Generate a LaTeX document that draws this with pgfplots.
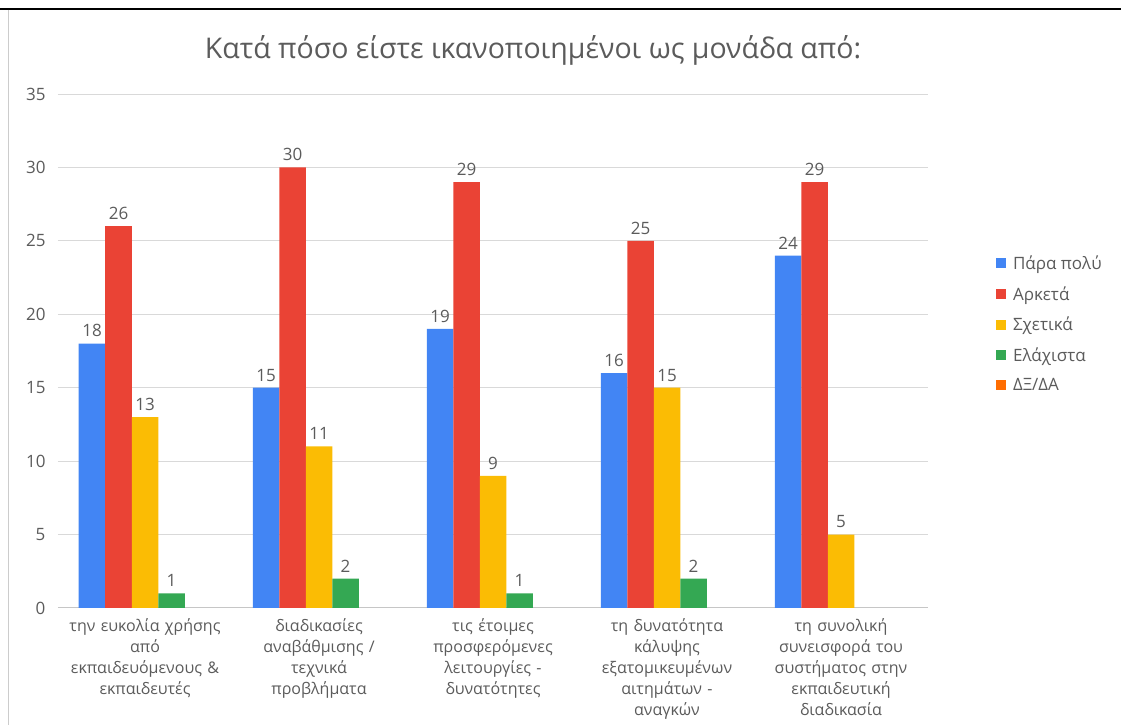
\documentclass[border=0pt]{standalone}
\usepackage{pgfplots}
\pgfplotsset{compat=1.18}
\usepackage{fontspec}
\setmainfont{Open Sans}
\definecolor{cBlue}{HTML}{4285F4}
\definecolor{cRed}{HTML}{EA4335}
\definecolor{cYellow}{HTML}{FBBC04}
\definecolor{cGreen}{HTML}{34A853}
\definecolor{cOrange}{HTML}{FF6D01}
\definecolor{txt}{HTML}{5B5B5B}
\definecolor{gridc}{HTML}{D9D9D9}
\definecolor{zeroc}{HTML}{C6C6C6}
\begin{document}
\begin{tikzpicture}[x=1pt,y=1pt]
\useasboundingbox (0,0) rectangle (1121,725);
\draw[line width=2pt,black] (0,716) -- (1121,716);
\draw[line width=1pt,gray!40] (8,715) -- (8,0);
\begin{axis}[
  at={(58pt,117pt)}, anchor=south west,
  scale only axis, width=870pt, height=514pt,
  ybar=0pt, bar width=26.5pt,
  xmin=-0.5, xmax=4.5, ymin=0, ymax=35,
  ytick={5,10,...,35},
  extra y ticks={0},
  extra y tick style={grid style={zeroc, line width=1pt}},
  xtick={0,1,2,3,4},
  xticklabels={
    {την ευκολία χρήσης\\από\\εκπαιδευόμενους \&\\εκπαιδευτές},
    {διαδικασίες\\αναβάθμισης /\\τεχνικά\\προβλήματα},
    {τις έτοιμες\\προσφερόμενες\\λειτουργίες -\\δυνατότητες},
    {τη δυνατότητα\\κάλυψης\\εξατομικευμένων\\αιτημάτων -\\αναγκών},
    {τη συνολική\\συνεισφορά του\\συστήματος στην\\εκπαιδευτική\\διαδικασία}},
  xticklabel style={text width=175pt, align=center, font=\fontsize{16}{21}\selectfont, text=txt, yshift=-7pt},
  yticklabel style={font=\fontsize{17}{19}\selectfont, text=txt, xshift=-9pt},
  /pgf/number format/assume math mode=true,
  axis line style={draw=none},
  major tick length=0pt,
  ymajorgrids, grid style={gridc, line width=0.8pt},
  title={Κατά πόσο είστε ικανοποιημένοι ως μονάδα από:},
  title style={at={(0.546,1.073)}, anchor=center, font=\fontsize{28.5}{32}\selectfont, text=txt},
  nodes near coords,
  every node near coord/.append style={font=\fontsize{17}{19}\selectfont, text=txt, yshift=3pt},
  legend style={at={(1.078,0.686)}, anchor=north west, draw=none, fill=none,
    font=\fontsize{17}{19}\selectfont, text=txt, row sep=15.5pt, inner sep=0pt,
    nodes={inner sep=0pt, inner xsep=7pt}},
  legend cell align=left,
  legend image code/.code={\fill[#1] (0pt,-5pt) rectangle (10pt,5pt);},
]
\addplot[fill=cBlue, draw=none] coordinates {(0,18) (1,15) (2,19) (3,16) (4,24)};
\addplot[fill=cRed, draw=none] coordinates {(0,26) (1,30) (2,29) (3,25) (4,29)};
\addplot[fill=cYellow, draw=none] coordinates {(0,13) (1,11) (2,9) (3,15) (4,5)};
\addplot[fill=cGreen, draw=none] coordinates {(0,1) (1,2) (2,1) (3,2)};
\addplot[fill=none, draw=none, nodes near coords=\empty,
  legend image code/.code={\fill[cOrange] (0pt,-5pt) rectangle (10pt,5pt);}]
  coordinates {(0,0) (1,0) (2,0) (3,0) (4,0)};
\legend{Πάρα πολύ, Αρκετά, Σχετικά, Ελάχιστα, ΔΞ/ΔΑ}
\end{axis}
\end{tikzpicture}
\end{document}
